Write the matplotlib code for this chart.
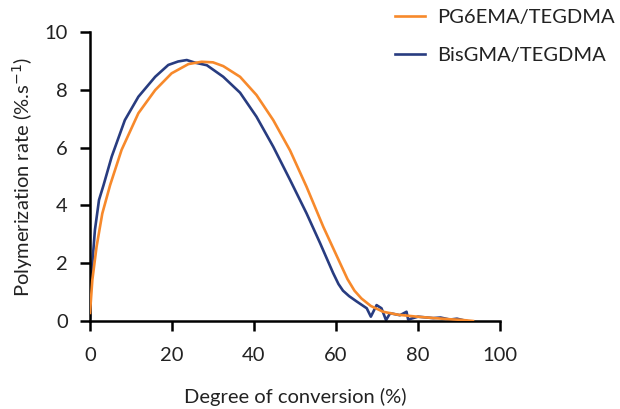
import matplotlib.pyplot as plt

plt.rcParams['font.family'] = ['Lato', 'DejaVu Sans']

# Donnees
pg6_dc = [0, 0.57, 1.6, 3.0, 4.9, 7.7, 11.8, 15.9, 19.9, 24.0, 27.2, 30.0,
          32.5, 36.6, 40.6, 44.7, 48.8, 52.8, 56.9, 61.0, 62.8, 64.5, 66.2,
          68.5, 71.5, 75.0, 79.7, 84.0, 87.8, 90.5, 93.4]
pg6_rate = [0.28, 1.42, 2.57, 3.72, 4.7, 5.92, 7.19, 7.99, 8.57, 8.89, 8.97, 8.95,
            8.82, 8.45, 7.82, 6.95, 5.9, 4.65, 3.26, 2.0, 1.45, 1.05, 0.78,
            0.52, 0.32, 0.22, 0.15, 0.1, 0.06, 0.04, 0.0]

bis_dc = [0, 0.2, 0.57, 1.2, 2.2, 3.3, 5.3, 8.5, 11.8, 15.9, 19.1, 21.5, 23.6,
          25.6, 28.5, 32.5, 36.6, 40.6, 44.7, 48.8, 52.8, 56.1, 59.3, 60.6,
          61.7, 63.2, 65.0, 67.5, 68.5, 69.9, 71.1, 72.2, 73.2, 75.6, 77.2,
          77.6, 80.0, 83.7, 85.5, 87.8, 89.5, 91.9]
bis_rate = [0.1, 1.2, 2.0, 3.15, 4.19, 4.7, 5.69, 6.95, 7.76, 8.45, 8.86, 8.98,
            9.03, 8.94, 8.85, 8.45, 7.9, 7.07, 6.03, 4.88, 3.73, 2.7, 1.66, 1.28,
            1.05, 0.86, 0.68, 0.44, 0.15, 0.55, 0.44, 0.03, 0.27, 0.2, 0.32,
            0.05, 0.15, 0.1, 0.12, 0.05, 0.08, 0.0]

orange = '#F7892B'
blue = '#283C80'
txt = '#222222'

fig = plt.figure(figsize=(6.2, 4.09), dpi=100)
ax = fig.add_axes([90 / 620, 1 - 321 / 409, 410 / 620, 289 / 409])

ax.plot(pg6_dc, pg6_rate, color=orange, lw=1.9, label='PG6EMA/TEGDMA', zorder=3)
ax.plot(bis_dc, bis_rate, color=blue, lw=1.9, label='BisGMA/TEGDMA', zorder=2)

ax.set_xlim(0, 100)
ax.set_ylim(0, 10)
ax.set_xticks([0, 20, 40, 60, 80, 100])
ax.set_yticks([0, 2, 4, 6, 8, 10])
ax.spines['top'].set_visible(False)
ax.spines['right'].set_visible(False)
for s in ['left', 'bottom']:
    ax.spines[s].set_linewidth(1.8)
ax.tick_params(width=1.8, length=7, labelsize=14.5, color='black', labelcolor=txt)
ax.tick_params(axis='x', pad=12)
ax.tick_params(axis='y', pad=9)

ax.set_xlabel('Degree of conversion (%)', fontsize=14.5, labelpad=17, color=txt)
ax.set_ylabel('Polymerization rate (%.s$^{-1}$)', fontsize=14.5, labelpad=7, color=txt)

leg = fig.legend(loc='upper left', bbox_to_anchor=(395 / 620, 1 - 9 / 409),
                 frameon=False, fontsize=14.5, handlelength=1.5, labelspacing=1.05,
                 handletextpad=0.6, borderpad=0, borderaxespad=0)
for t in leg.get_texts():
    t.set_color(txt)

fig.savefig('out.png', dpi=100)
